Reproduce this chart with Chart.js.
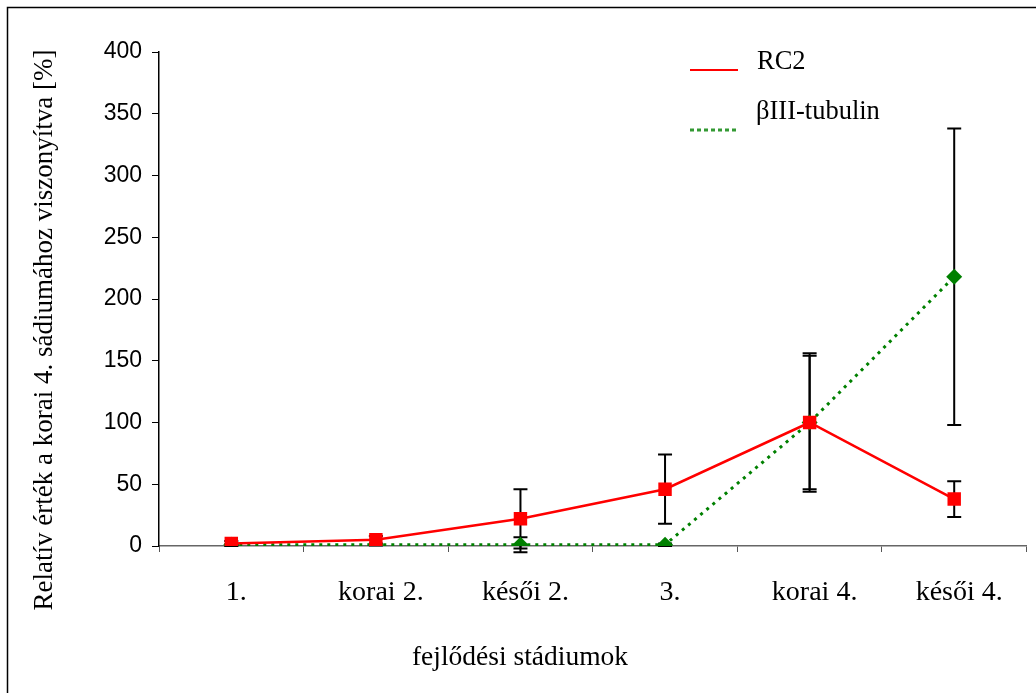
<!DOCTYPE html>
<html>
<head>
<meta charset="utf-8">
<script src="https://cdn.jsdelivr.net/npm/chart.js@4"></script>
<style>
html, body { margin: 0; padding: 0; background: #fff; }
#wrap { width: 1036px; height: 693px; position: relative; }
</style>
</head>
<body>
<div id="wrap"><canvas id="stageChart"></canvas></div>
<script>
const stages = ["1.", "korai 2.", "késői 2.", "3.", "korai 4.", "késői 4."];
const rc2 = [2, 5, 22, 46, 100, 38];
const rc2Err = [2, 3, 24, 28, 56, 14.5];
const tubulin = [1, 1, 1, 1, 100, 218];
const tubulinErr = [0.5, 0.5, 6, 1, 54, 120];
const yMin = 0, yMax = 400, yStep = 50;
const seriesNames = ["RC2", "βIII-tubulin"];
const xTitle = "fejlődési stádiumok";
const yTitle = "Relatív érték a korai 4. sádiumához viszonyítva [%]";

const serif = "'Liberation Serif', 'Times New Roman', serif";
const sans = "'Liberation Sans', Arial, sans-serif";

// error bars go under the markers
const errorBars = {
    id: "errorBars",
    beforeDatasetsDraw(chart) {
        const ctx = chart.ctx;
        const xs = chart.scales.x, ys = chart.scales.y;
        ctx.save();
        ctx.strokeStyle = "#000";
        ctx.lineWidth = 2;
        [[rc2, rc2Err], [tubulin, tubulinErr]].forEach(([vals, errs]) => {
            vals.forEach((v, i) => {
                const px = xs.getPixelForValue(i);
                const top = ys.getPixelForValue(v + errs[i]);
                const bot = ys.getPixelForValue(v - errs[i]);
                ctx.beginPath();
                ctx.moveTo(px, top); ctx.lineTo(px, bot);
                ctx.moveTo(px - 7, top); ctx.lineTo(px + 7, top);
                ctx.moveTo(px - 7, bot); ctx.lineTo(px + 7, bot);
                ctx.stroke();
            });
        });
        ctx.restore();
    }
};

// frame, axis titles and the legend
const decorations = {
    id: "decorations",
    afterDraw(chart) {
        const ctx = chart.ctx;
        ctx.save();
        ctx.strokeStyle = "#000";
        ctx.lineWidth = 1.5;
        ctx.beginPath();
        ctx.moveTo(7.5, 693); ctx.lineTo(7.5, 7.5); ctx.lineTo(1036, 7.5);
        ctx.stroke();

        ctx.fillStyle = "#000";
        ctx.textAlign = "center";
        ctx.textBaseline = "middle";
        ctx.font = "27.5px " + serif;
        ctx.fillText(xTitle, 520, 658);

        ctx.save();
        ctx.translate(45, 330);
        ctx.rotate(-Math.PI / 2);
        ctx.font = "27px " + serif;
        ctx.fillText(yTitle, 0, 0);
        ctx.restore();

        // legend
        ctx.lineWidth = 2;
        ctx.strokeStyle = "#ff0000";
        ctx.beginPath();
        ctx.moveTo(690, 70); ctx.lineTo(738, 70);
        ctx.stroke();
        ctx.lineWidth = 3;
        ctx.strokeStyle = "#339933";
        ctx.setLineDash([4, 3]);
        ctx.beginPath();
        ctx.moveTo(690, 130); ctx.lineTo(738, 130);
        ctx.stroke();
        ctx.setLineDash([]);
        ctx.textAlign = "left";
        ctx.font = "26.5px " + serif;
        ctx.fillText(seriesNames[0], 757, 62);
        ctx.fillText(seriesNames[1], 756, 112);
        ctx.restore();
    }
};

const ctx = document.getElementById("stageChart").getContext("2d");

new Chart(ctx, {
    type: "line",
    data: {
        labels: stages,
        datasets: [{
            label: seriesNames[0],
            data: rc2,
            borderColor: "#ff0000",
            backgroundColor: "#ff0000",
            borderWidth: 2.5,
            pointStyle: "rect",
            pointRadius: 9.5,
            pointBorderWidth: 0,
            tension: 0
        }, {
            label: seriesNames[1],
            data: tubulin,
            borderColor: "#008000",
            backgroundColor: "#008000",
            borderWidth: 3,
            borderDash: [3, 5],
            pointStyle: "rectRot",
            pointRadius: 8,
            pointBorderWidth: 0,
            tension: 0
        }]
    },
    options: {
        responsive: true,
        maintainAspectRatio: false,
        animation: false,
        layout: { padding: { left: 0, top: 52, right: 5, bottom: 0 } },
        plugins: {
            legend: { display: false },
            tooltip: { enabled: false }
        },
        scales: {
            x: {
                offset: true,
                afterFit: s => { s.height = 147; },
                grid: {
                    offset: true,
                    drawOnChartArea: false,
                    tickLength: 6,
                    color: "#555",
                    lineWidth: 1
                },
                border: { color: "#666", width: 1.5 },
                ticks: {
                    color: "#000",
                    font: { family: serif, size: 28 },
                    padding: 24,
                    labelOffset: 5,
                    maxRotation: 0
                }
            },
            y: {
                min: yMin,
                max: yMax,
                afterFit: s => { s.width = 159; },
                grid: {
                    drawOnChartArea: false,
                    tickLength: 7,
                    color: "#000",
                    lineWidth: 1
                },
                border: { color: "#000", width: 1.5 },
                ticks: {
                    stepSize: yStep,
                    color: "#000",
                    font: { family: sans, size: 23 },
                    padding: 10
                }
            }
        }
    },
    plugins: [errorBars, decorations]
});
</script>
</body>
</html>
